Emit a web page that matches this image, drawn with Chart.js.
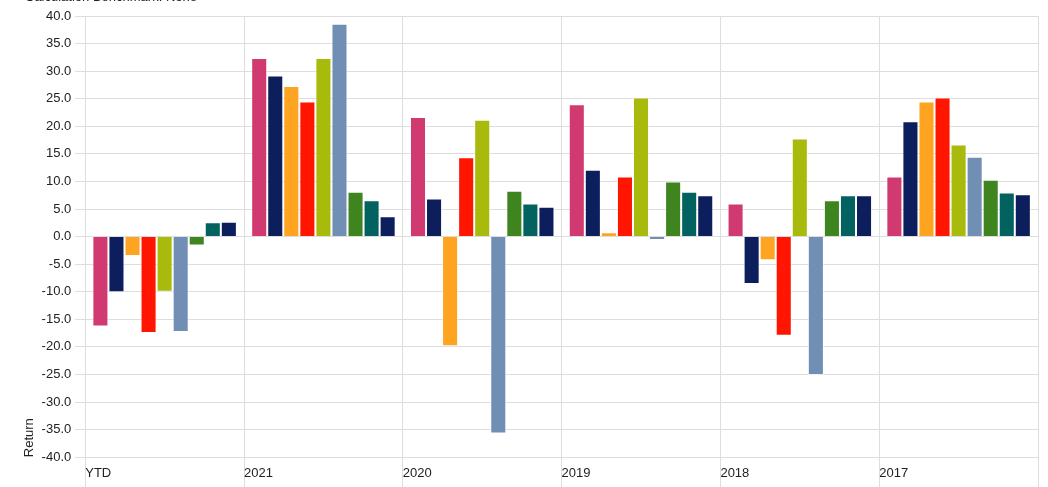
<!DOCTYPE html>
<html>
<head>
<meta charset="utf-8">
<script src="https://cdn.jsdelivr.net/npm/chart.js@4.4.0/dist/chart.umd.min.js"></script>
<style>
    html, body { margin: 0; padding: 0; background: #fff; overflow: hidden; }
    #titulo { position: absolute; left: 25px; top: -11px; font: 13px 'Liberation Sans', Arial, sans-serif; line-height: 15px; color: #222; white-space: nowrap; z-index: 2; }
    #wrap { position: relative; width: 1048px; height: 490px; }
</style>
</head>
<body>
<div id="wrap">
    <div id="titulo">Calculation Benchmark: None</div>
    <canvas id="grafico"></canvas>
</div>
<script>
// Categorias (períodos)
const categorias = ['YTD', '2021', '2020', '2019', '2018', '2017'];

// Séries
const serie1 = [-16.3, 32.4, 21.7, 24.0, 6.0, 10.9];
const serie2 = [-10.1, 29.2, 6.9, 12.1, -8.6, 20.9];
const serie3 = [-3.5, 27.3, -19.9, 0.8, -4.3, 24.5];
const serie4 = [-17.5, 24.5, 14.4, 10.9, -18.0, 25.2];
const serie5 = [-10.0, 32.4, 21.2, 25.2, 17.8, 16.7];
const serie6 = [-17.3, 38.6, -35.7, -0.6, -25.1, 14.5];
const serie7 = [-1.6, 8.15, 8.3, 10.0, 6.6, 10.3];
const serie8 = [2.6, 6.6, 6.0, 8.15, 7.5, 8.0];
const serie9 = [2.7, 3.7, 5.4, 7.5, 7.5, 7.7];

// Eixo Y
const yMin = -40;
const yMax = 40;
const yPasso = 5;

// Paleta de cores
const cores = ['#d13a70', '#0d1e5c', '#ffa420', '#ff1500', '#a8ba0c', '#718eb5', '#3e8520', '#02625f', '#0d1e5c'];
const series = [serie1, serie2, serie3, serie4, serie5, serie6, serie7, serie8, serie9];

Chart.defaults.font.family = "'Liberation Sans', Arial, sans-serif";
Chart.defaults.font.size = 13;
Chart.defaults.color = '#222';

// rótulos do eixo X alinhados à esquerda de cada divisória (linhas extras só reservam altura)
const rotulosX = [...categorias, ''].map(c => [c, '', '']);

const ctx = document.getElementById('grafico').getContext('2d');
new Chart(ctx, {
    type: 'bar',
    data: {
        labels: categorias,
        datasets: series.map((valores, i) => ({
            label: 'Series ' + (i + 1),
            data: valores,
            backgroundColor: cores[i],
            borderColor: 'rgba(255,255,255,0.55)',
            borderWidth: 1,
            categoryPercentage: 0.91,
            barPercentage: 1
        }))
    },
    options: {
        responsive: true,
        maintainAspectRatio: false,
        animation: false,
        layout: { padding: { left: 0, right: 10, top: 16, bottom: 0 } },
        plugins: {
            legend: { display: false },
            tooltip: { enabled: false }
        },
        scales: {
            x: { display: false },
            x2: {
                type: 'category',
                labels: rotulosX,
                position: 'bottom',
                offset: false,
                grid: { color: '#dddddd', tickLength: 30, offset: false },
                border: { color: '#dddddd' },
                ticks: { align: 'start', padding: -22, autoSkip: false, maxRotation: 0, color: '#222' }
            },
            y: {
                min: yMin,
                max: yMax,
                grid: { color: '#dddddd', tickLength: 10 },
                border: { color: '#dddddd' },
                ticks: { stepSize: yPasso, padding: 4, color: '#222', callback: v => v.toFixed(1) },
                title: { display: true, text: 'Return', align: 'start', color: '#222', font: { size: 13 }, padding: { top: 22, bottom: 0 } }
            }
        }
    }
});
</script>
</body>
</html>
